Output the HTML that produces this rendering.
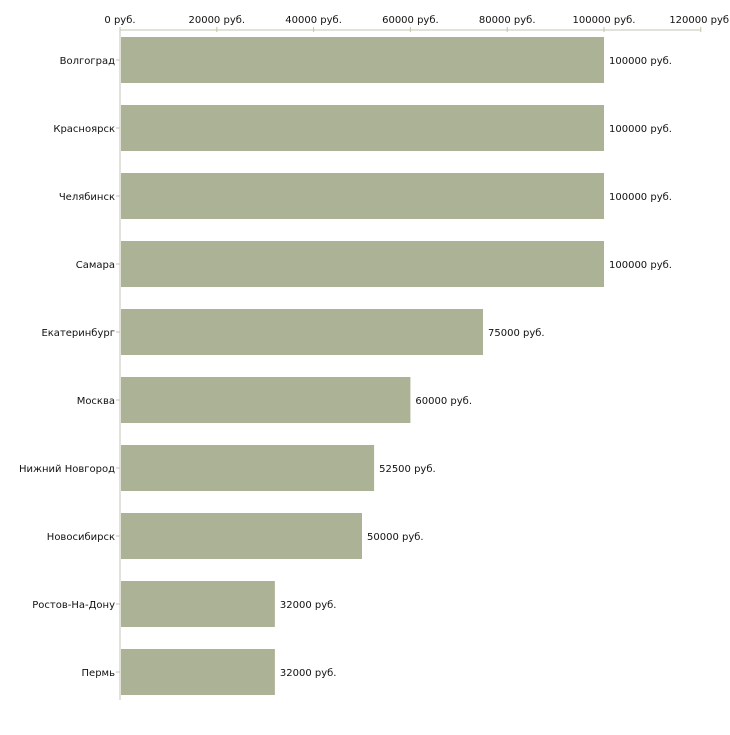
<!DOCTYPE html>
<html><head><meta charset="utf-8"><style>
body{margin:0;background:#fff;}
svg text{font-family:"DejaVu Sans","Liberation Sans",sans-serif;font-size:10px;fill:#111;}
</style></head><body>
<svg id="chart" width="730" height="730" xmlns="http://www.w3.org/2000/svg"></svg>
<script>
const categories=["Волгоград","Красноярск","Челябинск","Самара","Екатеринбург","Москва","Нижний Новгород","Новосибирск","Ростов-На-Дону","Пермь"];
const values=[100000,100000,100000,100000,75000,60000,52500,50000,32000,32000];
const ticks=[0,20000,40000,60000,80000,100000,120000];
const svg=document.getElementById('chart');
const NS='http://www.w3.org/2000/svg';
const x0=120,x1=700.8,xMax=120000,axisY=30,pitch=68,barH=46,barOff=7;
const xs=v=>x0+(v/xMax)*(x1-x0);
function mk(t,a,txt){const e=document.createElementNS(NS,t);for(const k in a)e.setAttribute(k,a[k]);if(txt!=null)e.textContent=txt;svg.appendChild(e);return e;}
let e=mk('line',{x1:x0,y1:axisY,x2:x1,y2:axisY,stroke:'#c4c4b4','stroke-width':1});


e=mk('line',{x1:x0,y1:axisY,x2:x0,y2:700,stroke:'#c4c4b4','stroke-width':1});


ticks.forEach(t=>{
 const x=xs(t);
 let l=mk('line',{x1:x,y1:27,x2:x,y2:32,stroke:'#c4c4a4'});
 
 
 let tx=mk('text',{x:x,y:23,'text-anchor':'middle'},t+' руб.');
 
 
});
categories.forEach((c,i)=>{
 const y=axisY+barOff+i*pitch;
 let r=mk('rect',{x:x0+1,y:y,width:xs(values[i])-x0-1,height:barH,fill:'#acb296'});
 
 
 let l=mk('line',{x1:116,y1:y+barH/2,x2:120,y2:y+barH/2,stroke:'#c4c4a4'});
 
 
 let t=mk('text',{x:115,y:y+barH/2+4,'text-anchor':'end'},c);
 
 
 let v=mk('text',{x:xs(values[i])+5,y:y+barH/2+4},values[i]+' руб.');
 
 
});
</script>
</body></html>
